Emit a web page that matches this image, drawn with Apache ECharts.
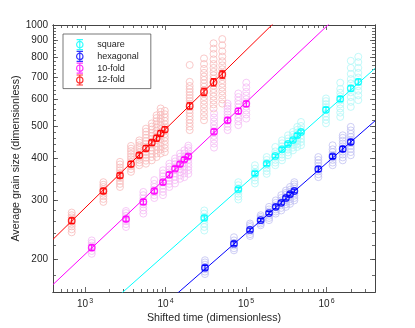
<!DOCTYPE html>
<html>
<head>
<meta charset="utf-8">
<script src="https://cdn.jsdelivr.net/npm/echarts@6/dist/echarts.min.js"></script>
<style>
  html, body { margin: 0; padding: 0; background: #fff; }
  #main { width: 415px; height: 328px; }
</style>
</head>
<body>
<div id="main"></div>
<script>
// series order: square, hexagonal, 10-fold, 12-fold
const names = ['square', 'hexagonal', '10-fold', '12-fold']
const colors = ['#00ffff', '#0000ff', '#ff00ff', '#ff0000']
const lightColors = ['#b2f7f7', '#c2c2f2', '#f5bcf5', '#f8bcbc']

// square
const sqTime = [30300, 80200, 129000, 180600, 231000, 280000, 332000, 383000, 433000, 482000, 984000, 1480000, 2000000, 2480000]
const sqMean = [266, 324, 361, 386, 407, 426, 442, 454, 469, 480, 559, 602, 647, 677]
const sqErr = [4, 4, 5, 5, 5, 5, 5, 6, 6, 6, 9, 10, 12, 13]
const sqSamples = [
  [244, 250, 256, 262, 268, 274, 280],
  [302, 308, 314, 320, 326, 333, 340],
  [337, 344, 351, 358, 365, 373, 382],
  [360, 367, 374, 381, 388, 396, 404],
  [382, 389, 396, 404, 412, 420, 433],
  [395, 403, 411, 419, 427, 435, 444, 453],
  [409, 417, 425, 433, 441, 450, 459, 469],
  [423, 431, 439, 447, 455, 463, 471, 480],
  [433, 442, 451, 460, 469, 478, 487, 497],
  [438, 448, 458, 468, 478, 488, 500, 514],
  [509, 521, 533, 545, 557, 569, 581, 593, 604],
  [532, 548, 564, 580, 596, 612, 628, 645, 673],
  [570, 590, 610, 630, 650, 670, 690, 715, 745, 782],
  [597, 617, 637, 657, 677, 697, 720, 745, 775, 804]
]

// hexagonal
const hxTime = [30900, 70800, 112000, 152000, 193000, 234000, 274000, 313000, 352000, 398000, 791000, 1190000, 1590000, 2000000]
const hxMean = [189, 223, 245, 262, 275, 287, 295, 305, 313, 320, 372, 406, 427, 448]
const hxErr = [3, 3, 3, 3, 3, 4, 4, 4, 4, 4, 6, 6, 7, 7]
const hxSamples = [
  [181, 184, 187, 190, 193, 196, 199],
  [213, 216, 220, 224, 228, 233],
  [235, 238, 242, 246, 250, 253, 256],
  [253, 256, 259, 262, 265, 268, 271],
  [262, 266, 270, 274, 278, 282, 287],
  [274, 278, 282, 286, 290, 295, 300],
  [280, 285, 290, 295, 300, 305, 311],
  [287, 292, 297, 302, 307, 312, 316, 321],
  [293, 298, 303, 308, 313, 318, 323, 329],
  [300, 305, 310, 315, 320, 325, 330, 335, 340],
  [352, 359, 366, 373, 380, 388, 396, 404],
  [382, 389, 396, 403, 410, 418, 426, 438],
  [395, 403, 411, 419, 427, 435, 443, 452, 461, 469],
  [409, 418, 427, 436, 445, 454, 464, 474, 485, 497]
]

// 10-fold
const tenTime = [1211, 3228, 5297, 7250, 9290, 11150, 13120, 15140, 17120, 19190, 40000, 59000, 80200, 100700]
const tenMean = [217, 264, 297, 320, 340, 358, 373, 385, 397, 406, 481, 520, 554, 582]
const tenErr = [4, 4, 5, 5, 5, 6, 6, 6, 6, 6, 8, 9, 10, 11]
const tenSamples = [
  [208, 212, 216, 220, 224, 228],
  [250, 255, 260, 265, 270, 275, 279],
  [274, 280, 286, 292, 298, 304, 311, 318],
  [305, 311, 317, 323, 329, 336, 345],
  [311, 318, 325, 332, 339, 346, 354, 361, 369],
  [329, 336, 343, 350, 357, 364, 371, 378, 386],
  [337, 345, 353, 361, 369, 377, 385, 392, 400],
  [348, 356, 364, 372, 380, 389, 397, 405, 414],
  [352, 361, 370, 379, 388, 397, 406, 414, 423],
  [360, 369, 378, 387, 396, 405, 414, 423, 430, 437],
  [431, 443, 455, 467, 479, 491, 503, 516, 530, 545],
  [486, 497, 508, 519, 530, 541, 552, 563, 573, 583],
  [503, 516, 529, 542, 555, 568, 581, 595, 610, 625],
  [526, 541, 556, 571, 586, 601, 616, 632, 652, 673]
]

// 12-fold
const twTime = [683, 1690, 2717, 3725, 4720, 5714, 6750, 7740, 8690, 9800, 19950, 30050, 39500, 50700]
const twMean = [261, 320, 356, 385, 409, 429, 446, 460, 475, 488, 574, 632, 675, 712]
const twErr = [5, 5, 6, 7, 7, 8, 8, 9, 9, 9, 12, 16, 17, 18]
const twSamples = [
  [241, 246, 251, 255, 259, 263, 267, 271, 276],
  [297, 303, 309, 314, 319, 324, 329, 334, 340],
  [329, 336, 343, 350, 356, 362, 369, 376, 384, 391],
  [365, 372, 379, 385, 391, 398, 405, 413, 421, 428, 436],
  [382, 389, 396, 403, 410, 417, 424, 431, 438, 446, 453],
  [386, 394, 402, 410, 418, 426, 434, 442, 451, 461, 471, 481, 491],
  [395, 404, 413, 422, 431, 440, 449, 458, 467, 477, 488, 498, 509],
  [404, 414, 424, 434, 444, 454, 464, 474, 484, 495, 506, 517, 528, 538],
  [414, 425, 436, 447, 458, 469, 480, 491, 502, 514, 526, 539, 551, 564],
  [418, 429, 440, 451, 462, 473, 484, 495, 506, 518, 530, 542, 555],
  [486, 498, 510, 522, 534, 546, 558, 570, 582, 594, 606, 618, 631, 644, 658, 677, 760],
  [520, 535, 550, 565, 580, 595, 610, 625, 640, 655, 670, 686, 702, 720, 740, 765, 795],
  [564, 580, 596, 612, 628, 644, 660, 676, 692, 708, 725, 745, 765, 790, 820, 850, 882],
  [583, 600, 617, 634, 651, 668, 685, 702, 720, 738, 758, 780, 805, 835, 870, 908]
]

// power-law fits: log10(size) = intercept + slope * log10(time)
const fitIntercept = [1.4651, 1.3318, 1.637, 1.7497]
const fitSlope = [0.2129, 0.2094, 0.2265, 0.235]

// axes
const xRange = [400, 4e6]
const yRange = [160, 1000]
const xTickLabels = [1e3, 1e4, 1e5, 1e6]
const yTickLabels = [200, 300, 400, 500, 600, 700, 800, 900, 1000]

const times = [sqTime, hxTime, tenTime, twTime]
const means = [sqMean, hxMean, tenMean, twMean]
const errs = [sqErr, hxErr, tenErr, twErr]
const samples = [sqSamples, hxSamples, tenSamples, twSamples]

const lg = Math.log10
const font = "'Liberation Sans', Arial, sans-serif"
const axisColor = '#444'
const textColor = '#262626'

// minor ticks
const xMinor = []
for (let e = 2; e <= 6; e++) {
  for (let k = 2; k <= 9; k++) {
    const v = k * Math.pow(10, e)
    if (v >= xRange[0] && v <= xRange[1]) xMinor.push(lg(v))
  }
}
const yMinor = []
for (let v = 160; v <= 1000; v += 20) yMinor.push(lg(v))

const phi = 'path://M0.5,0.5L7.5,0.5M4,0.5L4,11.5M0.5,11.5L7.5,11.5M7.5,6A3.5,3.5,0,1,1,0.5,6A3.5,3.5,0,1,1,7.5,6Z'

function xAx (pos, ticks, len, withLabel) {
  return {
    type: 'value',
    position: pos,
    min: lg(xRange[0]),
    max: lg(xRange[1]),
    splitLine: { show: false },
    axisLine: { show: true, onZero: false, lineStyle: { color: axisColor, width: 1 } },
    axisTick: { show: true, inside: true, length: len, customValues: ticks, lineStyle: { color: axisColor, width: 0.8 } },
    axisLabel: withLabel ? {
      show: true,
      customValues: xTickLabels.map(lg),
      margin: 6,
      formatter: v => '{b|10}{s|' + Math.round(v) + '}',
      rich: {
        b: { fontSize: 10, fontFamily: font, color: textColor, lineHeight: 13 },
        s: { fontSize: 7, fontFamily: font, color: textColor, lineHeight: 8, verticalAlign: 'top', padding: [0, 0, 0, 1] }
      }
    } : { show: false },
    name: withLabel ? 'Shifted time (dimensionless)' : '',
    nameLocation: 'middle',
    nameGap: 21,
    nameMoveOverlap: false,
    nameTextStyle: { fontSize: 10.7, fontFamily: font, color: textColor }
  }
}

function yAx (pos, ticks, len, withLabel) {
  return {
    type: 'value',
    position: pos,
    min: lg(yRange[0]),
    max: lg(yRange[1]),
    splitLine: { show: false },
    axisLine: { show: true, onZero: false, lineStyle: { color: axisColor, width: 1 } },
    axisTick: { show: true, inside: true, length: len, customValues: ticks, lineStyle: { color: axisColor, width: 0.8 } },
    axisLabel: withLabel ? {
      show: true,
      customValues: yTickLabels.map(lg),
      margin: 5,
      fontSize: 10,
      fontFamily: font,
      color: textColor,
      formatter: v => String(Math.round(Math.pow(10, v)))
    } : { show: false },
    name: withLabel ? 'Average grain size (dimensionless)' : '',
    nameLocation: 'middle',
    nameGap: 31,
    nameMoveOverlap: false,
    nameTextStyle: { fontSize: 10.7, fontFamily: font, color: textColor }
  }
}

const series = []

// individual runs (light hollow circles)
names.forEach((n, i) => {
  const pts = []
  samples[i].forEach((col, j) => {
    col.forEach(v => pts.push([lg(times[i][j]), lg(v)]))
  })
  series.push({
    name: n + ' runs',
    type: 'scatter',
    data: pts,
    symbol: 'circle',
    symbolSize: 7,
    z: 1,
    silent: true,
    itemStyle: { color: 'rgba(255,255,255,0)', borderColor: lightColors[i], borderWidth: 1 }
  })
})

// fit lines
names.forEach((n, i) => {
  const x0 = lg(xRange[0]), x1 = lg(xRange[1])
  series.push({
    name: n + ' fit',
    type: 'line',
    data: [[x0, fitIntercept[i] + fitSlope[i] * x0], [x1, fitIntercept[i] + fitSlope[i] * x1]],
    showSymbol: false,
    clip: true,
    z: 2,
    silent: true,
    lineStyle: { color: colors[i], width: 1 }
  })
})

// error bars on the means
names.forEach((n, i) => {
  series.push({
    name: n + ' err',
    type: 'custom',
    z: 3,
    silent: true,
    encode: { x: 0, y: [1, 2, 3] },
    data: times[i].map((t, j) => [lg(t), lg(means[i][j]), lg(means[i][j] - errs[i][j]), lg(means[i][j] + errs[i][j])]),
    renderItem: (params, api) => {
      const c = api.coord([api.value(0), api.value(1)])
      const lo = api.coord([api.value(0), api.value(2)])
      const hi = api.coord([api.value(0), api.value(3)])
      const w = 2.8
      const st = { stroke: colors[i], lineWidth: 1.1, fill: null }
      return {
        type: 'group',
        children: [
          { type: 'line', shape: { x1: c[0], y1: lo[1], x2: c[0], y2: hi[1] }, style: st },
          { type: 'line', shape: { x1: c[0] - w, y1: lo[1], x2: c[0] + w, y2: lo[1] }, style: st },
          { type: 'line', shape: { x1: c[0] - w, y1: hi[1], x2: c[0] + w, y2: hi[1] }, style: st }
        ]
      }
    }
  })
})

// means
names.forEach((n, i) => {
  series.push({
    name: n,
    type: 'scatter',
    data: times[i].map((t, j) => [lg(t), lg(means[i][j])]),
    symbol: 'circle',
    symbolSize: 6.5,
    z: 4,
    itemStyle: { color: 'rgba(255,255,255,0)', borderColor: colors[i], borderWidth: 1.3 }
  })
})

const chart = echarts.init(document.getElementById('main'), null, { renderer: 'canvas' })
chart.setOption({
  animation: false,
  backgroundColor: '#fff',
  grid: { left: 53, right: 40, top: 25, bottom: 36, outerBoundsMode: 'none' },
  legend: {
    left: 63,
    top: 34,
    orient: 'vertical',
    selectedMode: false,
    itemWidth: 7,
    itemHeight: 10,
    itemGap: 0.6,
    padding: [5, 12, 3, 13],
    backgroundColor: '#fff',
    borderColor: '#555',
    borderWidth: 0.8,
    borderRadius: 0,
    textStyle: { fontSize: 9, fontFamily: font, color: textColor, padding: [0, 0, 0, 9] },
    data: names.map((n, i) => ({
      name: n,
      icon: phi,
      itemStyle: { color: 'rgba(255,255,255,0)', borderColor: colors[i], borderWidth: 1.2 }
    }))
  },
  xAxis: [
    xAx('bottom', xTickLabels.map(lg), 5, true),
    xAx('bottom', xMinor, 3, false),
    xAx('top', xTickLabels.map(lg), 5, false),
    xAx('top', xMinor, 3, false)
  ],
  yAxis: [
    yAx('left', yTickLabels.map(lg), 5, true),
    yAx('left', yMinor, 3, false),
    yAx('right', yTickLabels.map(lg), 5, false),
    yAx('right', yMinor, 3, false)
  ],
  series: series
})
</script>
</body>
</html>
